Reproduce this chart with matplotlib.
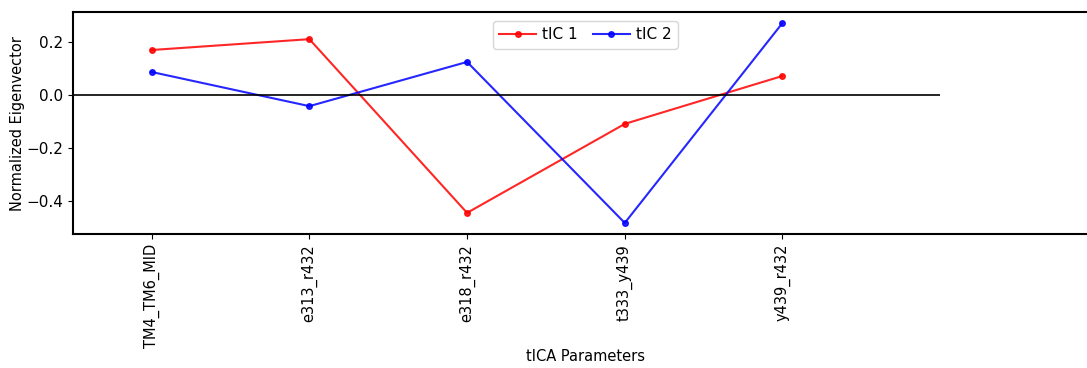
import numpy as np
import matplotlib
matplotlib.use("Agg")
import matplotlib.pyplot as plt

# tICA parameters and the normalized eigenvector components
params = ["TM4_TM6_MID", "e313_r432", "e318_r432", "t333_y439", "y439_r432"]
tic1 = [0.170, 0.211, -0.445, -0.109, 0.072]
tic2 = [0.087, -0.042, 0.125, -0.483, 0.272]

fig = plt.figure(figsize=(10.87, 3.68), dpi=100)
ax = fig.add_axes([0.067, 0.364, 0.943, 0.603])

x = np.arange(len(params))
ax.plot(x, tic1, color="red", marker="o", markersize=4, lw=1.5, label="tIC 1", alpha=0.85)
ax.plot(x, tic2, color="blue", marker="o", markersize=4, lw=1.5, label="tIC 2", alpha=0.85)
ax.hlines(0, -0.5, len(params), color="black", lw=1.2)

ax.set_xlim(-0.5, 6)
ax.set_ylim(-0.525, 0.313)
ax.set_yticks([0.2, 0.0, -0.2, -0.4])
ax.set_xticks(x)
ax.set_xticklabels(params, rotation=90, fontsize=10.5)
ax.tick_params(axis="y", labelsize=11)
ax.set_ylabel("Normalized Eigenvector", fontsize=10.5, labelpad=1)
ax.set_xlabel("tICA Parameters", fontsize=10.5, labelpad=1)
for s in ax.spines.values():
    s.set_linewidth(1.5)

ax.legend(loc="upper center", ncol=2, fontsize=11, handlelength=2.4,
          borderaxespad=0.6, columnspacing=1.0, handletextpad=0.4)

fig.savefig("out.png", dpi=100)
